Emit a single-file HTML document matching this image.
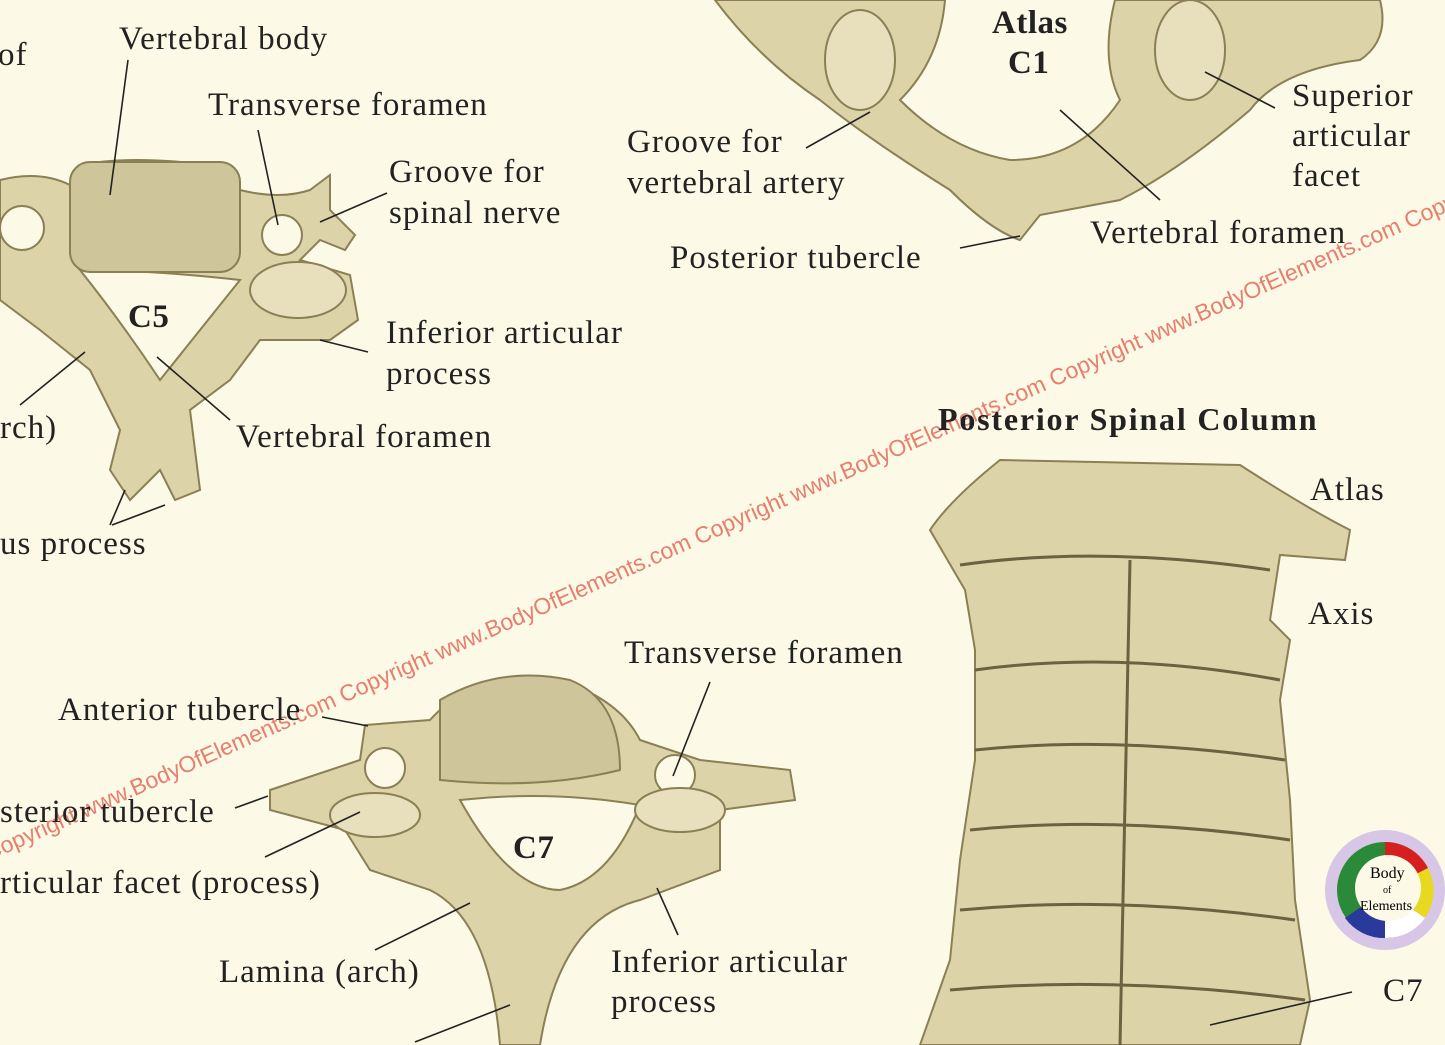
<!DOCTYPE html>
<html><head><meta charset="utf-8"><style>
html,body{margin:0;padding:0}
body{width:1445px;height:1045px;background:#fcf9e7;position:relative;overflow:hidden;font-family:"Liberation Serif",serif;color:#222}
.t{position:absolute;font-size:33px;letter-spacing:1px;line-height:40px;white-space:nowrap}
.b{font-weight:bold;letter-spacing:0.5px}
svg{position:absolute;left:0;top:0}
.wm{position:absolute;left:-20px;top:842px;transform-origin:0 0;transform:rotate(-24deg);color:#e46a5a;font-family:"Liberation Sans",sans-serif;font-size:23px;white-space:nowrap;opacity:.85}
</style></head><body>
<svg width="1445" height="1045" viewBox="0 0 1445 1045">
<g fill="#dcd3a8" stroke="#8a7f55" stroke-width="2">
<path d="M0 180 Q40 170 70 185 L80 165 Q130 155 210 165 L240 190 Q280 200 310 190 L330 175 L330 210 L355 235 L345 250 L320 240 L300 260 L350 275 L358 320 L330 340 L260 340 L230 380 L190 410 L200 490 L175 500 L160 470 L130 500 L110 470 L120 430 L90 370 L40 330 L0 300 Z"/>
<path d="M80 270 Q150 270 240 280 Q200 330 160 380 Q120 320 80 270 Z" fill="#fcf9e7"/>
<rect x="70" y="162" width="170" height="110" rx="20" fill="#cfc59a"/>
<circle cx="22" cy="228" r="22" fill="#fcf9e7"/>
<circle cx="282" cy="235" r="20" fill="#fcf9e7"/>
<ellipse cx="298" cy="290" rx="48" ry="28" fill="#e8e0bc"/>
<path d="M715 0 L945 0 Q940 60 900 100 Q950 150 1010 160 Q1080 160 1120 100 Q1100 60 1115 0 L1380 0 Q1390 40 1360 60 Q1280 70 1250 110 Q1180 170 1120 200 L1040 215 L1020 240 Q990 230 950 190 Q870 140 820 100 Q760 60 715 0 Z"/>
<ellipse cx="860" cy="60" rx="35" ry="50" fill="#e8e0bc"/>
<ellipse cx="1190" cy="50" rx="35" ry="50" fill="#e8e0bc"/>
<path d="M270 790 L360 760 L365 725 L430 720 Q480 665 560 680 Q620 700 640 740 L700 760 L790 770 L795 800 L720 810 L720 870 L640 900 Q560 920 540 1045 L500 1045 Q490 920 430 890 L370 870 L345 830 L270 810 Z"/>
<path d="M460 800 Q550 790 640 805 Q610 880 560 890 Q510 890 460 800 Z" fill="#fcf9e7"/>
<path d="M440 700 Q500 665 570 680 Q620 700 620 770 Q540 790 440 780 Z" fill="#cfc59a"/>
<circle cx="385" cy="768" r="20" fill="#fcf9e7"/>
<circle cx="675" cy="775" r="20" fill="#fcf9e7"/>
<ellipse cx="375" cy="815" rx="45" ry="22" fill="#e8e0bc"/>
<ellipse cx="680" cy="810" rx="45" ry="22" fill="#e8e0bc"/>
<path d="M1000 460 L1240 465 Q1310 510 1350 530 L1345 560 L1280 555 L1270 620 L1290 640 L1280 700 L1290 800 L1295 900 L1310 1000 L1300 1045 L920 1045 L950 960 L960 860 L975 760 L975 650 L965 590 L930 530 Q950 500 1000 460 Z"/>
<g fill="none" stroke="#6c6240" stroke-width="3">
<path d="M960 565 Q1100 545 1270 570"/><path d="M975 670 Q1120 650 1280 680"/>
<path d="M975 750 Q1120 735 1285 760"/><path d="M970 830 Q1120 815 1290 840"/>
<path d="M960 910 Q1120 895 1295 920"/><path d="M950 990 Q1120 975 1305 1000"/>
<path d="M1130 560 L1120 1045"/>
</g>
</g>
<g stroke="#222" stroke-width="1.6" fill="none">
<path d="M128 60 L110 195"/><path d="M258 130 L278 225"/><path d="M387 193 L320 222"/>
<path d="M368 352 L320 340"/><path d="M20 405 L85 352"/><path d="M230 420 L157 357"/>
<path d="M110 525 L125 490"/><path d="M112 525 L165 505"/>
<path d="M806 148 L870 112"/><path d="M960 248 L1020 236"/><path d="M1275 108 L1205 72"/>
<path d="M1160 200 L1060 110"/>
<path d="M710 682 L673 776"/><path d="M322 717 L368 726"/><path d="M235 808 L268 796"/>
<path d="M265 857 L360 812"/><path d="M375 950 L470 903"/><path d="M678 935 L657 888"/>
<path d="M415 1042 L510 1005"/><path d="M1210 1025 L1352 992"/>
</g>
<circle cx="1385" cy="890" r="60" fill="#d7c6e6"/>
<circle cx="1385" cy="890" r="48" fill="#2a8a3a"/>
<path d="M1385 842 A48 48 0 0 1 1428 868 L1385 890 Z" fill="#d62020"/>
<path d="M1428 868 A48 48 0 0 1 1425 918 L1385 890 Z" fill="#e8d820"/>
<path d="M1425 918 A48 48 0 0 1 1385 938 L1385 890 Z" fill="#fff"/>
<path d="M1385 938 A48 48 0 0 1 1345 918 L1385 890 Z" fill="#2a3a9a"/>
<circle cx="1388" cy="888" r="33" fill="#fcf9e7"/>
<text x="1370" y="878" font-family="Liberation Serif" font-size="16">Body</text>
<text x="1383" y="893" font-family="Liberation Serif" font-size="10">of</text>
<text x="1360" y="910" font-family="Liberation Serif" font-size="14">Elements</text>
</svg>
<div class="wm">Copyright www.BodyOfElements.com Copyright www.BodyOfElements.com Copyright www.BodyOfElements.com Copyright www.BodyOfElements.com Copyright www.BodyOfElements.com</div>
<div class="t" style="left:-2px;top:35px">of</div>
<div class="t" style="left:119px;top:19px">Vertebral body</div>
<div class="t" style="left:208px;top:85px">Transverse foramen</div>
<div class="t" style="left:389px;top:152px">Groove for</div>
<div class="t" style="left:389px;top:193px">spinal nerve</div>
<div class="t b" style="left:128px;top:297px">C5</div>
<div class="t" style="left:386px;top:313px">Inferior articular</div>
<div class="t" style="left:386px;top:354px">process</div>
<div class="t" style="left:0;top:408px">rch)</div>
<div class="t" style="left:236px;top:417px">Vertebral foramen</div>
<div class="t" style="left:0;top:524px">us process</div>
<div class="t b" style="left:992px;top:3px">Atlas</div>
<div class="t b" style="left:1008px;top:43px">C1</div>
<div class="t" style="left:627px;top:122px">Groove for</div>
<div class="t" style="left:627px;top:163px">vertebral artery</div>
<div class="t" style="left:670px;top:238px">Posterior tubercle</div>
<div class="t" style="left:1292px;top:76px">Superior</div>
<div class="t" style="left:1292px;top:116px">articular</div>
<div class="t" style="left:1292px;top:156px">facet</div>
<div class="t" style="left:1090px;top:213px">Vertebral foramen</div>
<div class="t b" style="left:938px;top:399px;font-size:32px;letter-spacing:1.8px">Posterior Spinal Column</div>
<div class="t" style="left:1310px;top:470px">Atlas</div>
<div class="t" style="left:1308px;top:594px">Axis</div>
<div class="t" style="left:1383px;top:971px">C7</div>
<div class="t" style="left:624px;top:633px">Transverse foramen</div>
<div class="t" style="left:58px;top:690px">Anterior tubercle</div>
<div class="t" style="left:0;top:792px">sterior tubercle</div>
<div class="t" style="left:0;top:863px">rticular facet (process)</div>
<div class="t b" style="left:513px;top:828px">C7</div>
<div class="t" style="left:219px;top:952px">Lamina (arch)</div>
<div class="t" style="left:611px;top:942px">Inferior articular</div>
<div class="t" style="left:611px;top:982px">process</div>
</body></html>
